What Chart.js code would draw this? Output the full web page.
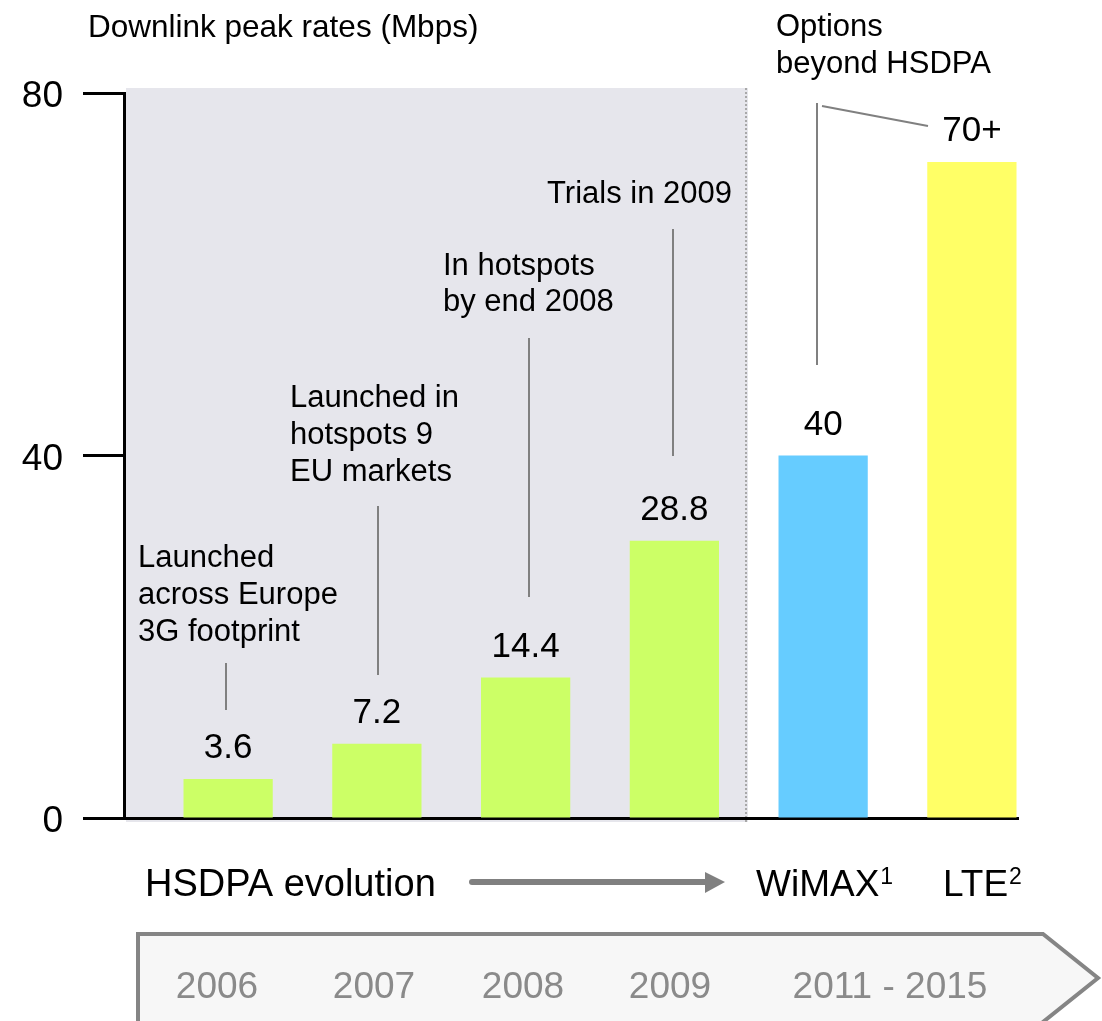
<!DOCTYPE html>
<html>
<head>
<meta charset="utf-8">
<script src="https://cdn.jsdelivr.net/npm/chart.js@4.4.1/dist/chart.umd.min.js"></script>
<style>
  body { margin: 0; background: #fff; }
  canvas { display: block; }
</style>
</head>
<body>
<canvas id="rateChart" width="1102" height="1021"></canvas>
<script>
// Data
const categories = ['2006', '2007', '2008', '2009', 'WiMAX', 'LTE'];
const barValues = [4.3, 8.2, 15.5, 30.6, 40, 72.4];
const valueLabels = ['3.6', '7.2', '14.4', '28.8', '40', '70+'];
const yTicks = [0, 40, 80];
const timelineLabels = ['2006', '2007', '2008', '2009', '2011 - 2015'];
const notes = [
    ['Launched', 'across Europe', '3G footprint'],
    ['Launched in', 'hotspots 9', 'EU markets'],
    ['In hotspots', 'by end 2008'],
    ['Trials in 2009'],
    ['Options', 'beyond HSDPA']
];

const FONT = '"Liberation Sans", Arial, sans-serif';
const GREY = '#808080';

function line(ctx, x1, y1, x2, y2) {
    ctx.beginPath();
    ctx.moveTo(x1, y1);
    ctx.lineTo(x2, y2);
    ctx.stroke();
}

function textLines(ctx, lines, x, y, step) {
    lines.forEach((t, i) => ctx.fillText(t, x, y + i * step));
}

// Background panel, notes, arrow and timeline banner
const overlay = {
    id: 'overlay',
    beforeDraw(chart) {
        const ctx = chart.ctx;
        ctx.save();
        ctx.fillStyle = '#e6e6ec';
        ctx.fillRect(126, 88, 622, 734);
        ctx.strokeStyle = '#a8a8a8';
        ctx.lineWidth = 2;
        ctx.setLineDash([2, 2]);
        line(ctx, 746, 88, 746, 822);
        ctx.restore();
    },
    afterDatasetsDraw(chart) {
        const ctx = chart.ctx;
        const bars = chart.getDatasetMeta(0).data;
        ctx.save();
        ctx.fillStyle = '#000';
        ctx.font = '35px ' + FONT;
        ctx.textAlign = 'center';
        ctx.textBaseline = 'alphabetic';
        bars.forEach((bar, i) => {
            ctx.fillText(valueLabels[i], bar.x, bar.y - 21);
        });
        ctx.restore();
    },
    afterDraw(chart) {
        const ctx = chart.ctx;
        ctx.save();
        ctx.fillStyle = '#000';
        ctx.textBaseline = 'alphabetic';

        // axis title
        ctx.font = '31.5px ' + FONT;
        ctx.textAlign = 'left';
        ctx.fillText('Downlink peak rates (Mbps)', 88, 37);

        // notes
        ctx.font = '31px ' + FONT;
        textLines(ctx, notes[0], 138, 567, 37);
        textLines(ctx, notes[1], 290, 407, 37);
        textLines(ctx, notes[2], 443, 275, 36);
        ctx.textAlign = 'right';
        ctx.fillText(notes[3][0], 732, 203);
        ctx.textAlign = 'left';
        textLines(ctx, notes[4], 776, 36, 37);

        // leader lines
        ctx.strokeStyle = GREY;
        ctx.lineWidth = 2;
        line(ctx, 226, 663, 226, 710);
        line(ctx, 378, 506, 378, 675);
        line(ctx, 529, 338, 529, 597);
        line(ctx, 673, 229, 673, 456);
        line(ctx, 817, 103, 817, 365);
        line(ctx, 822, 106, 928, 126);

        // bottom labels
        ctx.font = '38px ' + FONT;
        ctx.fillText('HSDPA evolution', 145, 896);
        ctx.font = '37px ' + FONT;
        ctx.fillText('WiMAX', 756, 896);
        let w = ctx.measureText('WiMAX').width;
        ctx.fillText('LTE', 943, 896);
        let w2 = ctx.measureText('LTE').width;
        ctx.font = '23px ' + FONT;
        ctx.fillText('1', 756 + w + 1, 884);
        ctx.fillText('2', 943 + w2 + 1, 884);

        // arrow
        ctx.strokeStyle = GREY;
        ctx.fillStyle = GREY;
        ctx.lineWidth = 6;
        ctx.lineCap = 'round';
        line(ctx, 472, 882, 708, 882);
        ctx.beginPath();
        ctx.moveTo(705, 872);
        ctx.lineTo(725, 882);
        ctx.lineTo(705, 893);
        ctx.closePath();
        ctx.fill();

        // timeline banner
        ctx.lineCap = 'butt';
        ctx.lineJoin = 'miter';
        ctx.beginPath();
        ctx.moveTo(138, 1040);
        ctx.lineTo(138, 934);
        ctx.lineTo(1043, 934);
        ctx.lineTo(1098, 978);
        ctx.lineTo(1043, 1022);
        ctx.lineTo(1043, 1040);
        ctx.fillStyle = '#f7f7f7';
        ctx.fill();
        ctx.strokeStyle = '#858585';
        ctx.lineWidth = 4;
        ctx.stroke();

        ctx.fillStyle = '#8a8a8a';
        ctx.font = '37px ' + FONT;
        ctx.textAlign = 'center';
        const yearX = [217, 374, 523, 670, 890];
        timelineLabels.forEach((t, i) => ctx.fillText(t, yearX[i], 998));
        ctx.restore();
    }
};

Chart.defaults.font.family = FONT;

const ctx = document.getElementById('rateChart').getContext('2d');
const rateChart = new Chart(ctx, {
    type: 'bar',
    data: {
        labels: categories,
        datasets: [{
            data: barValues.map((v, i) => ({ x: i, y: v })),
            backgroundColor: ['#ccff66', '#ccff66', '#ccff66', '#ccff66', '#66ccff', '#ffff66'],
            borderWidth: 0,
            barPercentage: 0.6,
            categoryPercentage: 1
        }]
    },
    options: {
        responsive: false,
        animation: false,
        layout: {
            padding: { left: 0, top: 93, right: 84, bottom: 203 }
        },
        plugins: {
            legend: { display: false },
            tooltip: { enabled: false }
        },
        scales: {
            x: {
                type: 'linear',
                min: -0.7,
                max: 5.31,
                offset: false,
                z: 1,
                afterBuildTicks: function(scale) {
                    scale.ticks = categories.map((c, i) => ({ value: i }));
                },
                grid: { display: false, drawTicks: false },
                ticks: { display: false },
                border: { display: true, color: '#000', width: 3 },
                afterFit: function(scale) { scale.height = 0; }
            },
            y: {
                min: 0,
                max: 80,
                afterBuildTicks: function(scale) {
                    scale.ticks = yTicks.map(v => ({ value: v }));
                },
                afterFit: function(scale) { scale.width = 124; },
                grid: {
                    drawOnChartArea: false,
                    tickLength: 41,
                    tickWidth: 3,
                    tickColor: '#000'
                },
                border: { display: true, color: '#000', width: 3 },
                ticks: {
                    color: '#000',
                    padding: 20,
                    labelOffset: 4,
                    font: { size: 37 }
                }
            }
        }
    },
    plugins: [overlay]
});
</script>
</body>
</html>
